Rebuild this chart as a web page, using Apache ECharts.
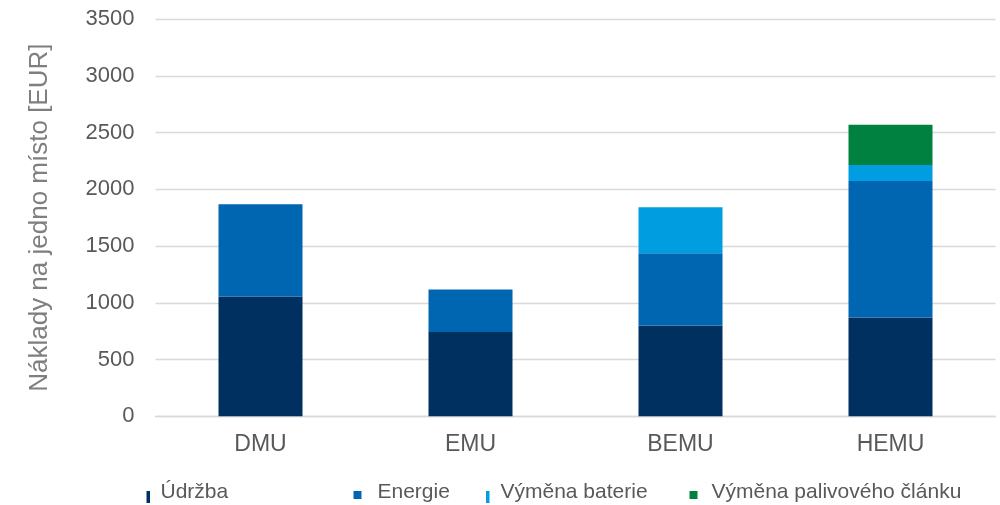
<!DOCTYPE html>
<html>
<head>
<meta charset="utf-8">
<script src="https://cdn.jsdelivr.net/npm/echarts@6/dist/echarts.min.js"></script>
<style>
  html, body { margin: 0; padding: 0; background: #ffffff; }
  #chart { width: 1000px; height: 505px; }
</style>
</head>
<body>
<div id="chart"></div>
<script>
// Cost per seat by train type (EUR)
const categories = ['DMU', 'EMU', 'BEMU', 'HEMU'];
const udrzba = [1055, 742, 800, 871];
const energie = [813, 376, 636, 1202];
const vymenaBaterie = ['-', '-', 405, 141];
const vymenaClanku = ['-', '-', '-', 354];
const yTicks = { min: 0, max: 3500, interval: 500 };
const yTitle = 'Náklady na jedno místo [EUR]';

const FONT = '"Liberation Sans", Arial, sans-serif';
const colors = {
  udrzba: '#003060',
  energie: '#0066b2',
  baterie: '#009ee0',
  clanek: '#008140'
};

// Legend markers share one 8x21 box (y -9..12): a thin bar or a square,
// both hanging from y = 0 so they sit a little below the text's middle
const ICON_BAR = 'path://M0,0 L3.5,0 L3.5,12 L0,12 Z M8,-9';
const ICON_SQUARE = 'path://M0,0 L8,0 L8,8 L0,8 Z M0,-9 M8,12';

function legendItem(name, left, icon, padLeft) {
  return {
    data: [name],
    left: left,
    top: 482,
    orient: 'horizontal',
    icon: icon,
    itemWidth: 8,
    itemHeight: 21,
    selectedMode: false,
    padding: 0,
    textStyle: {
      fontFamily: FONT,
      fontSize: 21,
      lineHeight: 20,
      color: '#595959',
      padding: [0, 0, 0, padLeft]
    }
  };
}

const chart = echarts.init(document.getElementById('chart'), null, { renderer: 'canvas' });

const option = {
  backgroundColor: '#ffffff',
  animation: false,
  textStyle: { fontFamily: FONT },
  grid: { left: 155.5, right: 4.5, top: 19, bottom: 88.7, containLabel: false },
  legend: [
    legendItem('Údržba', 146.5, ICON_BAR, 1),
    legendItem('Energie', 353.5, ICON_SQUARE, 11),
    legendItem('Výměna baterie', 486, ICON_BAR, 1.5),
    legendItem('Výměna palivového článku', 689.5, ICON_SQUARE, 9)
  ],
  xAxis: {
    type: 'category',
    data: categories,
    axisLine: { show: true, lineStyle: { color: '#d9d9d9', width: 1.3 } },
    axisTick: { show: false },
    axisLabel: {
      fontFamily: FONT,
      fontSize: 23,
      lineHeight: 23,
      color: '#595959',
      margin: 17
    }
  },
  yAxis: {
    type: 'value',
    min: yTicks.min,
    max: yTicks.max,
    interval: yTicks.interval,
    name: yTitle,
    nameLocation: 'middle',
    nameGap: 103,
    nameRotate: 90,
    nameTextStyle: {
      fontFamily: FONT,
      fontSize: 26,
      color: '#7f7f7f'
    },
    axisLine: { show: false },
    axisTick: { show: false },
    splitLine: { lineStyle: { color: '#d9d9d9', width: 1.3 } },
    axisLabel: {
      fontFamily: FONT,
      fontSize: 22,
      color: '#595959',
      margin: 21,
      formatter: (v) => String(v)
    }
  },
  series: [
    { name: 'Údržba', type: 'bar', stack: 'total', barWidth: '40%', data: udrzba, itemStyle: { color: colors.udrzba } },
    { name: 'Energie', type: 'bar', stack: 'total', data: energie, itemStyle: { color: colors.energie } },
    { name: 'Výměna baterie', type: 'bar', stack: 'total', data: vymenaBaterie, itemStyle: { color: colors.baterie } },
    { name: 'Výměna palivového článku', type: 'bar', stack: 'total', data: vymenaClanku, itemStyle: { color: colors.clanek } }
  ]
};

chart.setOption(option);
</script>
</body>
</html>
